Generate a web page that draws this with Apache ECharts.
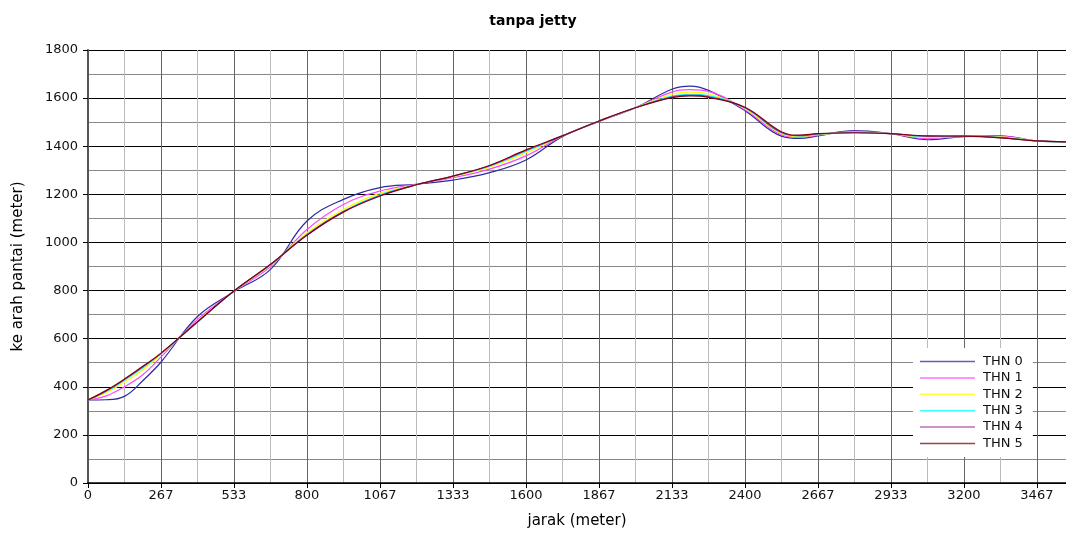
<!DOCTYPE html>
<html lang="id">
    <head>
        <meta charset="UTF-8"/>
        <script src="https://cdn.jsdelivr.net/npm/echarts@6/dist/echarts.min.js"></script>
        <title>tanpa jetty</title>
        <style>
            html, body { margin: 0; padding: 0; background: #fff; }
        </style>
    </head>
    <body>
        <div id="main" style="width: 1066px;height:534px;"></div>
        <script type="text/javascript">

            // jarak sepanjang pantai (meter)
            var jarak = [0, 67, 133, 200, 267, 400, 533, 667, 800, 933, 1067, 1200, 1333, 1467, 1600, 1733,
                         1867, 2000, 2133, 2200, 2267, 2400, 2533, 2600, 2667, 2800, 2933, 3067, 3200, 3333, 3467, 3573];

            // posisi garis pantai tiap tahun (meter)
            var thn0 = [345, 346, 360, 425, 503, 692, 795, 888, 1089, 1179, 1228, 1242, 1259, 1290, 1343, 1440,
                        1503, 1560, 1637, 1650, 1632, 1548, 1442, 1432, 1443, 1465, 1452, 1427, 1440, 1443, 1422, 1418];
            var thn1 = [345, 362, 400, 450, 524, 680, 796, 900, 1054, 1158, 1214, 1242, 1269, 1305, 1360, 1442,
                        1504, 1560, 1625, 1635, 1628, 1552, 1448, 1437, 1446, 1462, 1452, 1432, 1441, 1441, 1422, 1418];
            var thn2 = [345, 375, 420, 470, 535, 672, 797, 905, 1040, 1137, 1205, 1241, 1273, 1313, 1372, 1443,
                        1505, 1560, 1616, 1625, 1618, 1556, 1452, 1440, 1448, 1459, 1452, 1436, 1441, 1439, 1422, 1418];
            var thn3 = [345, 380, 427, 478, 538, 668, 797, 907, 1034, 1130, 1198, 1240, 1275, 1317, 1378, 1443,
                        1505, 1560, 1608, 1616, 1610, 1559, 1455, 1443, 1450, 1457, 1452, 1440, 1442, 1437, 1422, 1418];
            var thn4 = [345, 383, 430, 482, 539, 669, 798, 908, 1032, 1128, 1195, 1240, 1276, 1319, 1382, 1443,
                        1505, 1560, 1605, 1612, 1606, 1560, 1457, 1444, 1451, 1456, 1452, 1442, 1442, 1436, 1422, 1418];
            var thn5 = [345, 385, 432, 485, 540, 670, 798, 909, 1030, 1126, 1193, 1240, 1276, 1320, 1385, 1443,
                        1505, 1560, 1602, 1609, 1603, 1562, 1460, 1446, 1452, 1456, 1452, 1443, 1442, 1435, 1422, 1418];

            var namaSeri = ['THN 0', 'THN 1', 'THN 2', 'THN 3', 'THN 4', 'THN 5'];
            var nilaiSeri = [thn0, thn1, thn2, thn3, thn4, thn5];
            var warna = ['#2b2ba3', '#ff44ff', '#ffff00', '#00ffff', '#a040a0', '#800010'];

            var myChart = echarts.init(document.getElementById('main'));

            function pasangan(ys) {
                var out = [];
                for (var i = 0; i < jarak.length; i++) {
                    out.push([jarak[i], ys[i]]);
                }
                return out;
            }

            var seri = [];
            for (var i = 0; i < namaSeri.length; i++) {
                seri.push({
                    name: namaSeri[i],
                    type: 'line',
                    data: pasangan(nilaiSeri[i]),
                    smooth: 0.4,
                    symbol: 'none',
                    lineStyle: { width: 1.2, color: warna[i] },
                    itemStyle: { color: warna[i], opacity: 0.75 }
                });
            }

            var huruf = 'DejaVu Sans';

            option = {
                backgroundColor: '#fff',
                animation: false,
                color: warna,
                title: {
                    text: 'tanpa jetty',
                    left: 'center',
                    top: 9,
                    textStyle: { fontFamily: huruf, fontSize: 14, fontWeight: 'bold', color: '#000' }
                },
                legend: {
                    orient: 'vertical',
                    left: 913,
                    top: 348,
                    padding: [7, 10, 7, 7],
                    backgroundColor: '#fff',
                    itemWidth: 55,
                    itemHeight: 14,
                    itemGap: 3.4,
                    icon: 'path://M0,6.5 L55,6.5 L55,8 L0,8 Z',
                    textStyle: { fontFamily: huruf, fontSize: 13, color: '#111', padding: [0, 0, 0, 3] },
                    data: namaSeri
                },
                grid: { left: 88, right: 0, top: 50, bottom: 51 },
                xAxis: {
                    type: 'value',
                    min: 0,
                    max: 3573,
                    interval: 3200 / 12,
                    name: 'jarak (meter)',
                    nameLocation: 'middle',
                    nameGap: 31,
                    nameTextStyle: { fontFamily: huruf, fontSize: 15, color: '#000' },
                    axisLine: { show: true, onZero: false, lineStyle: { color: '#000', width: 1.5 } },
                    axisTick: { show: true, length: 5, lineStyle: { color: '#000' } },
                    axisLabel: {
                        fontFamily: huruf, fontSize: 13, color: '#111', margin: 6,
                        showMaxLabel: false,
                        formatter: function (v) { return String(Math.round(v)); }
                    },
                    splitLine: { show: true, lineStyle: { color: '#666', width: 1 } },
                    minorTick: { show: false, splitNumber: 2 },
                    minorSplitLine: { show: true, lineStyle: { color: '#bbb', width: 1 } }
                },
                yAxis: {
                    type: 'value',
                    min: 0,
                    max: 1800,
                    interval: 200,
                    name: 'ke arah pantai (meter)',
                    nameLocation: 'middle',
                    nameGap: 62,
                    nameTextStyle: { fontFamily: huruf, fontSize: 15, color: '#000' },
                    axisLine: { show: true, lineStyle: { color: '#555', width: 2 } },
                    axisTick: { show: true, length: 5, lineStyle: { color: '#000' } },
                    axisLabel: {
                        fontFamily: huruf, fontSize: 13, color: '#111', margin: 10,
                        formatter: function (v) { return String(v); }
                    },
                    splitLine: { show: true, lineStyle: { color: '#000', width: 1 } },
                    minorTick: { show: false, splitNumber: 2 },
                    minorSplitLine: { show: true, lineStyle: { color: '#888', width: 1 } }
                },
                series: seri
            };

            myChart.setOption(option);

        </script>
    </body>
</html>
